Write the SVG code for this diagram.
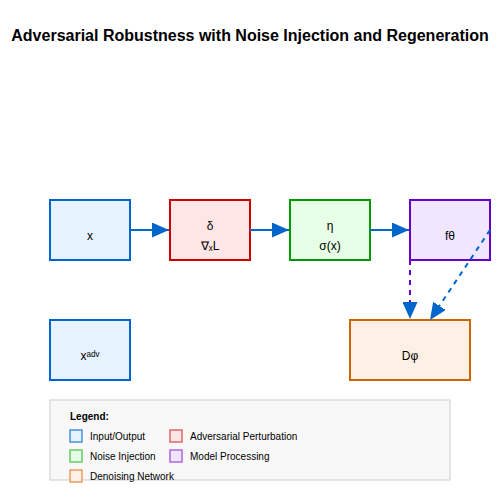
<svg xmlns="http://www.w3.org/2000/svg" width="500" height="500" viewBox="0 0 500 500">
<defs>
<style>
text{font-family:"Liberation Sans",Arial,sans-serif;fill:#000}
.t{font-size:16px;font-weight:bold}
.n{font-size:12px;text-anchor:middle}
.box{stroke-width:2}
.lg{font-size:10px}
.sw{stroke-width:1.5}
.c{stroke:#0066cc;stroke-width:2;fill:none}
</style>
<marker id="ah2" markerWidth="17" markerHeight="15" refX="17" refY="7.5" orient="auto" markerUnits="userSpaceOnUse" viewBox="0 0 17 15">
<polygon points="0 0,17 7.5,0 15" fill="#0066cc"/>
</marker>
</defs>
<rect width="500" height="500" fill="#fff"/>
<text class="t" x="250" y="41" text-anchor="middle">Adversarial Robustness with Noise Injection and Regeneration</text>
<g id="node-x">
<rect class="box" x="50" y="200" width="80" height="60" fill="#e6f2ff" stroke="#0066cc"/>
<text class="n" x="90" y="240">x</text>
</g>
<g id="node-delta">
<rect class="box" x="170" y="200" width="80" height="60" fill="#ffe6e6" stroke="#cc0000"/>
<text class="n" x="210" y="230">δ</text>
<text class="n" x="210" y="250">∇ₓL</text>
</g>
<g id="node-eta">
<rect class="box" x="290" y="200" width="80" height="60" fill="#e6ffe6" stroke="#009900"/>
<text class="n" x="330" y="230">η</text>
<text class="n" x="330" y="250">σ(x)</text>
</g>
<g id="node-f">
<rect class="box" x="410" y="200" width="80" height="60" fill="#f0e6ff" stroke="#6600cc"/>
<text class="n" x="450" y="240">fθ</text>
</g>
<g id="node-xadv">
<rect class="box" x="50" y="320" width="80" height="60" fill="#e6f2ff" stroke="#0066cc"/>
<text class="n" x="90" y="360">xᵃᵈᵛ</text>
</g>
<g id="node-D">
<rect class="box" x="350" y="320" width="120" height="60" fill="#fff0e6" stroke="#cc6600"/>
<text class="n" x="410" y="360">Dφ</text>
</g>
<g id="connectors">
<line class="c" x1="130" y1="230" x2="169" y2="230" marker-end="url(#ah2)"/>
<line class="c" x1="250" y1="230" x2="289" y2="230" marker-end="url(#ah2)"/>
<line class="c" x1="370" y1="230" x2="409" y2="230" marker-end="url(#ah2)"/>
<line x1="410" y1="260" x2="410" y2="319" stroke="#6600cc" stroke-width="2" stroke-dasharray="5,5" marker-end="url(#ah2)"/>
<line class="c" x1="490" y1="230" x2="430" y2="320" stroke-dasharray="5,5" marker-end="url(#ah2)"/>
</g>
<g id="legend">
<rect x="50" y="400" width="400" height="80" fill="#f8f8f8" stroke="#dddddd" stroke-width="1.5"/>
<text class="lg" x="70" y="420" font-weight="bold">Legend:</text>
<rect class="sw" x="70" y="430" width="12" height="12" fill="#e6f2ff" stroke="#4a90d9"/>
<text class="lg" x="90" y="440">Input/Output</text>
<rect class="sw" x="170" y="430" width="12" height="12" fill="#ffe6e6" stroke="#e06666"/>
<text class="lg" x="190" y="440">Adversarial Perturbation</text>
<rect class="sw" x="70" y="450" width="12" height="12" fill="#e6ffe6" stroke="#66cc66"/>
<text class="lg" x="90" y="460">Noise Injection</text>
<rect class="sw" x="170" y="450" width="12" height="12" fill="#f0e6ff" stroke="#aa66dd"/>
<text class="lg" x="190" y="460">Model Processing</text>
<rect class="sw" x="70" y="470" width="12" height="12" fill="#fff0e6" stroke="#e6a060"/>
<text class="lg" x="90" y="480">Denoising Network</text>
</g>
</svg>
